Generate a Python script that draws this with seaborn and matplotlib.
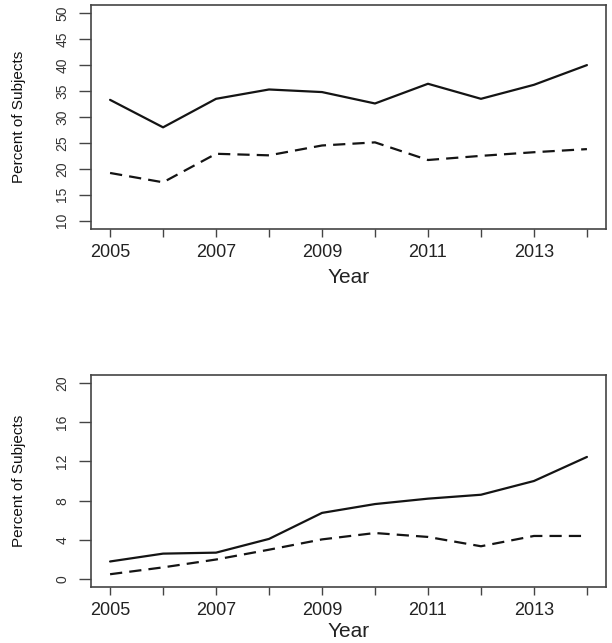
import numpy as np
import pandas as pd
import matplotlib
matplotlib.use("Agg")
import matplotlib.pyplot as plt
import seaborn as sns

years = [2005, 2006, 2007, 2008, 2009, 2010, 2011, 2012, 2013, 2014]
top_solid = [33.3, 28.0, 33.5, 35.3, 34.8, 32.6, 36.4, 33.5, 36.2, 40.0]
top_dashed = [19.2, 17.4, 22.9, 22.6, 24.5, 25.1, 21.7, 22.5, 23.2, 23.8]
bot_solid = [1.8, 2.6, 2.7, 4.1, 6.75, 7.65, 8.2, 8.6, 10.0, 12.45]
bot_dashed = [0.5, 1.2, 2.0, 3.0, 4.05, 4.7, 4.3, 3.35, 4.4, 4.4]
top_yticks = [10, 15, 20, 25, 30, 35, 40, 45, 50]
bot_yticks = [0, 4, 8, 12, 16, 20]
xtick_labels = ["2005", "", "2007", "", "2009", "", "2011", "", "2013", ""]

sns.set_theme(style="ticks")
plt.rcParams['font.family'] = ['Liberation Sans', 'DejaVu Sans']

fig = plt.figure(figsize=(6.12, 6.43), dpi=100)
ax1 = fig.add_axes([0.1487, 0.6439, 0.8415, 0.3484])
ax2 = fig.add_axes([0.1487, 0.0871, 0.8415, 0.3297])

def make_df(s, d):
    return pd.DataFrame({
        "Year": years + years,
        "val": s + d,
        "series": ["solid"] * len(years) + ["dashed"] * len(years),
    })

for ax, s, d, yt, lp in [(ax1, top_solid, top_dashed, top_yticks, 5.5),
                         (ax2, bot_solid, bot_dashed, bot_yticks, 2.5)]:
    df = make_df(s, d)
    sns.lineplot(data=df, x="Year", y="val", style="series",
                 dashes={"solid": "", "dashed": (5.5, 3.2)},
                 color="#141414", linewidth=1.6, legend=False, ax=ax)
    lo, hi = yt[0], yt[-1]
    r = hi - lo
    ax.set_ylim(lo - 0.04 * r, hi + 0.04 * r)
    ax.set_xlim(2005 - 0.04 * 9, 2014 + 0.04 * 9)
    ax.set_yticks(yt)
    ax.set_yticklabels([str(v) for v in yt], rotation=90, va="center",
                       fontsize=10, color="#333333")
    ax.set_xticks(years)
    ax.set_xticklabels(xtick_labels, fontsize=13, color="#222222")
    ax.tick_params(axis="y", length=8.5, width=1, color="#444444", pad=7)
    ax.tick_params(axis="x", length=5.5, width=1, color="#444444", pad=5)
    for sp in ax.spines.values():
        sp.set_visible(True)
        sp.set_color("#444444")
        sp.set_linewidth(1.2)
    ax.set_xlabel("Year", fontsize=15, color="#222222", labelpad=lp)
    ax.set_ylabel("Percent of Subjects", fontsize=11, color="#111111", labelpad=21)

fig.savefig("out.png", dpi=100)
